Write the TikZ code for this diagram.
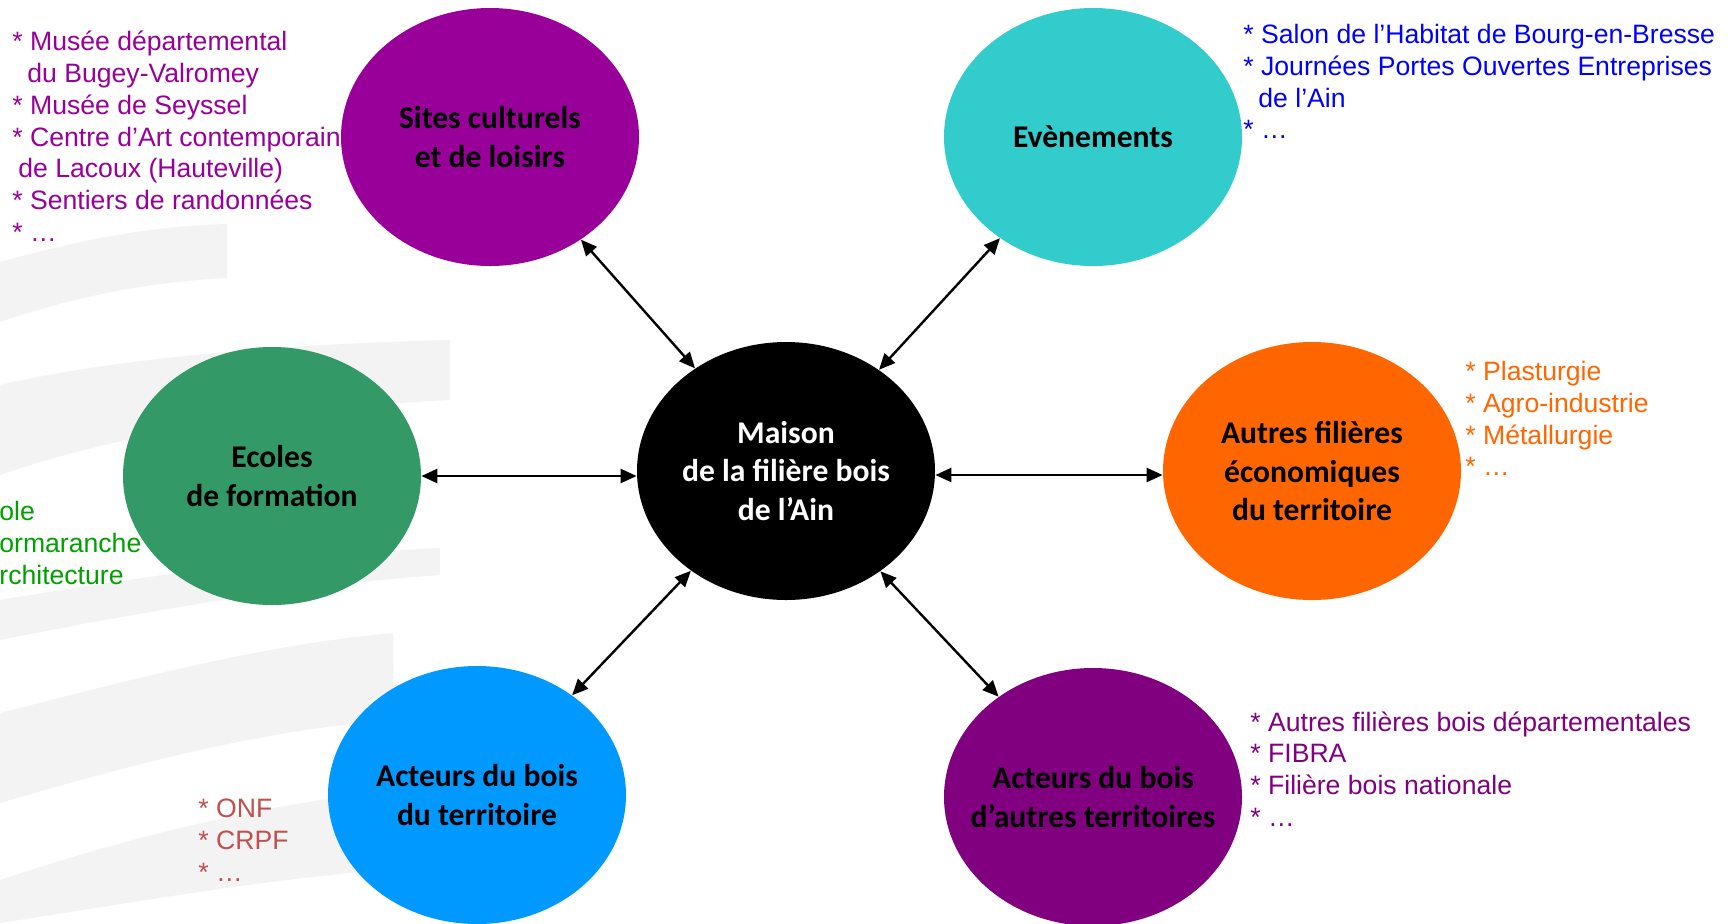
\documentclass[tikz,border=0pt]{standalone}
\usepackage{fontspec}
\setmainfont{Liberation Sans}
\newfontfamily\carlito{Carlito}
\usetikzlibrary{arrows.meta,shapes.geometric}
\definecolor{cSites}{HTML}{990099}
\definecolor{cEvent}{HTML}{33CCCC}
\definecolor{cEcole}{HTML}{339966}
\definecolor{cAutres}{HTML}{FF6600}
\definecolor{cActT}{HTML}{0099FF}
\definecolor{cActA}{HTML}{800080}
\definecolor{tBlue}{HTML}{0000FF}
\definecolor{tRed}{HTML}{C0504D}
\definecolor{tGreen}{HTML}{00A000}
\definecolor{band}{HTML}{F3F3F3}
\begin{document}
\begin{tikzpicture}[x=0.5pt,y=-0.5pt,
  bubble/.style={ellipse, minimum width=149pt, minimum height=129pt, inner xsep=-20pt, inner ysep=0pt,
    align=center, text=black, font=\carlito\bfseries\fontsize{15.8}{19.15}\selectfont},
  liste/.style={anchor=north west, inner sep=0pt, align=left,
    font=\fontsize{13.3}{15.85}\selectfont},
  link/.style={{Triangle[length=8pt,width=7pt]}-{Triangle[length=8pt,width=7pt]}, line width=1.2pt}]
\useasboundingbox (0,0) rectangle (1731,923);
\fill[white] (0,0) rectangle (1731,923);
% background swooshes
\fill[band] (0,262) .. controls (80,240) and (150,226) .. (227,224) -- (227,278) .. controls (150,282) and (80,295) .. (0,322) -- cycle;
\fill[band] (0,385) .. controls (100,362) and (250,345) .. (450,340) -- (450,400) .. controls (250,410) and (100,440) .. (0,475) -- cycle;
\fill[band] (0,600) .. controls (150,575) and (300,555) .. (440,548) -- (440,575) .. controls (300,585) and (150,610) .. (0,640) -- cycle;
\fill[band] (0,713) .. controls (130,680) and (260,645) .. (393,633) -- (393,720) .. controls (260,730) and (130,765) .. (0,803) -- cycle;
\fill[band] (0,880) .. controls (150,830) and (300,795) .. (460,785) -- (460,865) .. controls (300,872) and (150,900) .. (0,923) -- cycle;

% ellipses
\node[bubble, fill=cSites] (sites) at (490,137) {Sites culturels\\et de loisirs};
\node[bubble, fill=cEvent] (event) at (1093,137) {Evènements};
\node[bubble, fill=cEcole] (ecole) at (272,476) {Ecoles\\de formation};
\node[bubble, fill=black, text=white] (maison) at (786,471) {Maison\\de la filière bois\\de l’Ain};
\node[bubble, fill=cAutres] (autres) at (1312,471) {Autres filières\\économiques\\du territoire};
\node[bubble, fill=cActT] (actT) at (477,795) {Acteurs du bois\\du territoire};
\node[bubble, fill=cActA] (actA) at (1093,797) {Acteurs du bois\\d’autres territoires};

% connectors
\draw[link] (sites) -- (maison);
\draw[link] (event) -- (maison);
\draw[link] (ecole.east) -- (ecole.east -| maison.west);
\draw[link] ([yshift=-2pt]maison.east) -- ([yshift=-2pt]autres.west);
\draw[link] (actT) -- (maison);
\draw[link] (actA) -- (maison);

% lists
\node[liste, text=cSites] (lsites) at (12,31) {* Musée départemental\\\hspace*{7.5pt}du Bugey-Valromey\\* Musée de Seyssel\\* Centre d’Art contemporain\\\hspace*{3pt}de Lacoux (Hauteville)\\* Sentiers de randonnées\\* …};
\node[liste, text=tBlue] (levent) at (1243,24) {* Salon de l’Habitat de Bourg-en-Bresse\\* Journées Portes Ouvertes Entreprises\\\hspace*{7.5pt}de l’Ain\\* …};
\node[liste, text=cAutres] (lautres) at (1465,361) {* Plasturgie\\* Agro-industrie\\* Métallurgie\\* …};
\node[liste, text=cActA] (lactA) at (1250,711) {* Autres filières bois départementales\\* FIBRA\\* Filière bois nationale\\* …};
\node[liste, text=tRed] (lactT) at (198,799) {* ONF\\* CRPF\\* …};
\node[liste, text=tGreen] (lecole) at (-1,501) {ole\\ormaranche\\rchitecture};
\end{tikzpicture}
\end{document}
